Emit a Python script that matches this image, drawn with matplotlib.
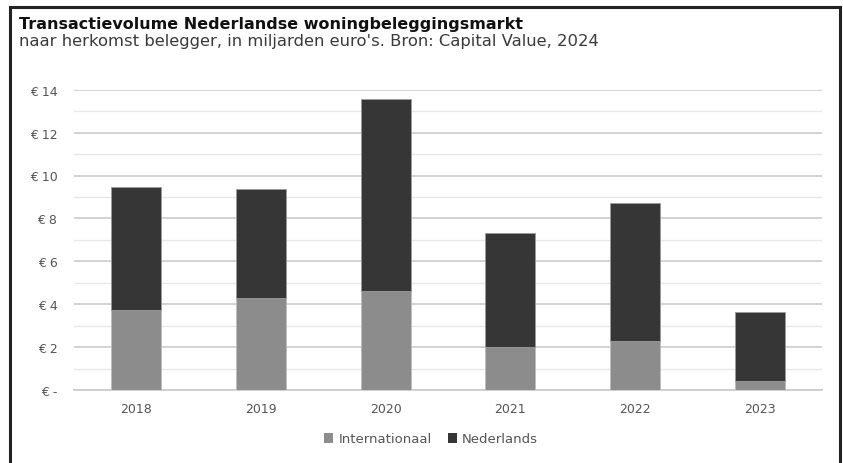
import matplotlib.pyplot as plt
from matplotlib.lines import Line2D
from matplotlib.patches import Patch
import numpy as np

years = ["2018", "2019", "2020", "2021", "2022", "2023"]
internationaal = [3.74, 4.27, 4.60, 2.02, 2.30, 0.42]
nederlands = [5.71, 5.10, 8.97, 5.30, 6.42, 3.23]
ytick_vals = [0, 2, 4, 6, 8, 10, 12, 14]
ytick_labels = ["€ -", "€ 2", "€ 4", "€ 6", "€ 8", "€ 10", "€ 12", "€ 14"]

plt.rcParams['font.family'] = ['DejaVu Sans']

W, H = 843, 464
fig = plt.figure(figsize=(W / 100, H / 100), dpi=100)
fig.patch.set_facecolor('white')

ax = fig.add_axes([74 / W, 1 - 391 / H, (822 - 74) / W, (391 - 90.7) / H])
x = np.arange(len(years))
c_int = '#8c8c8c'
c_ned = '#363636'
ax.bar(x, internationaal, width=0.4, color=c_int, edgecolor='#bdbdbd', linewidth=0.6, zorder=3, label='Internationaal')
ax.bar(x, nederlands, width=0.4, bottom=internationaal, color=c_ned, edgecolor='#9a9a9a', linewidth=0.6, zorder=3, label='Nederlands')

ax.set_xlim(-0.5, len(years) - 0.5)
ax.set_ylim(0, 14)
ax.set_yticks(ytick_vals)
ax.set_yticklabels(ytick_labels)
ax.set_yticks(np.arange(1, 14, 2), minor=True)
ax.grid(axis='y', which='major', color='#d2d2d2', linewidth=1.4, zorder=0)
ax.grid(axis='y', which='minor', color='#e8e8e8', linewidth=1.0, zorder=0)
ax.set_xticks(x)
ax.set_xticklabels(years)
for s in ['top', 'right', 'left']:
    ax.spines[s].set_visible(False)
ax.spines['bottom'].set_color('#cfcfcf')
ax.spines['bottom'].set_linewidth(1.4)
ax.tick_params(axis='both', which='both', length=0, colors='#555555', labelsize=9)
ax.tick_params(axis='y', pad=12)
ax.tick_params(axis='x', pad=9)

fig.text(19 / W, 1 - 29 / H, "Transactievolume Nederlandse woningbeleggingsmarkt",
         fontsize=11.5, fontweight='bold', color='#111111', va='baseline', ha='left')
fig.text(19 / W, 1 - 46 / H, "naar herkomst belegger, in miljarden euro's. Bron: Capital Value, 2024",
         fontsize=11.8, color='#3a3a3a', va='baseline', ha='left')

handles = [Patch(facecolor=c_int, edgecolor='none'), Patch(facecolor=c_ned, edgecolor='none')]
fig.legend(handles, ['Internationaal', 'Nederlands'], loc='center', bbox_to_anchor=(431 / W, 1 - 440 / H),
           ncol=2, frameon=False, fontsize=9.5, labelcolor='#555555', handlelength=0.7, handleheight=0.7,
           handletextpad=0.4, columnspacing=1.2)

# frame
fc = '#222222'
fig.add_artist(Line2D([10 / W, 10 / W], [0, 1 - 8 / H], color=fc, linewidth=2.2, transform=fig.transFigure))
fig.add_artist(Line2D([840 / W, 840 / W], [0, 1 - 8 / H], color=fc, linewidth=2.2, transform=fig.transFigure))
fig.add_artist(Line2D([10 / W, 840 / W], [1 - 8 / H, 1 - 8 / H], color=fc, linewidth=2.2, transform=fig.transFigure))

fig.savefig('out.png', dpi=100, facecolor='white')
